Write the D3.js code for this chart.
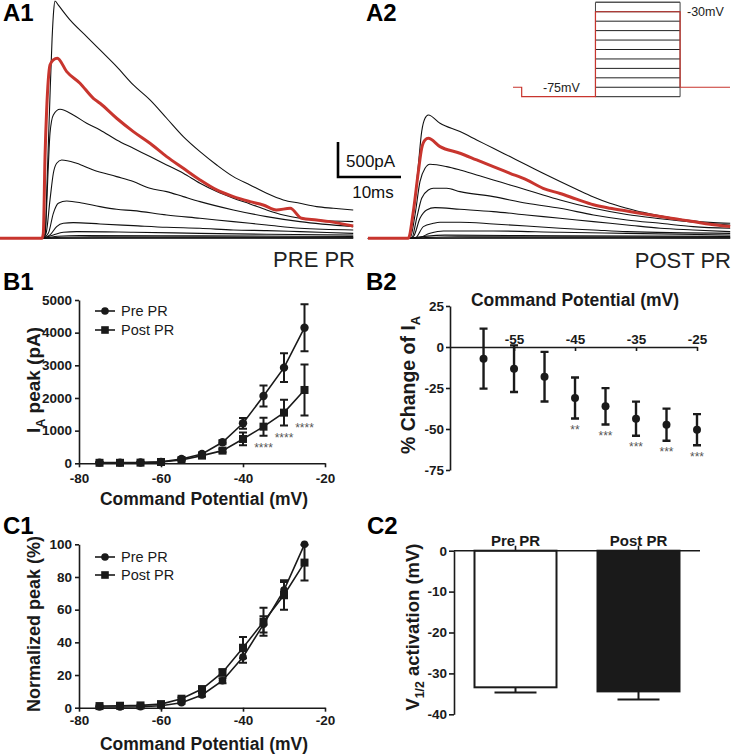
<!DOCTYPE html>
<html><head><meta charset="utf-8">
<script src="https://cdn.jsdelivr.net/npm/d3@7"></script>
<style>
body{margin:0;background:#fff;}
svg{display:block;}
</style></head><body>
<svg id="fig" width="734" height="754"></svg>
<script>
// ================= DATA =================
// A1/A2: current traces, [time (ms) from step onset, current (pA)]
const traceVolts = [-25,-30,-35,-40,-45,-50,-55,-60,-65,-70,-75];
const highlightV = -30;
const preWindow = [-6.67, 49.4];
const postWindow = [-6.2, 51.3];

const pre_m25 = [[0,0],[0.48,40],[0.8,800],[1.2,1850],[1.6,2850],[1.85,3250],[2.06,3391],[2.6,3330],[4.44,3120],[7.09,2882],[9.21,2691],[11.85,2453],[14.5,2191],[17.14,1977],[19.79,1715],[22.43,1453],[25.08,1238],[27.73,1048],[30.37,881],[33.02,762],[35.66,643],[38.3,548],[40.95,500],[43.6,452],[46.24,429],[49.4,405]];
const pre_m30 = [[0,0],[0.21,71],[0.48,1167],[0.74,1834],[1.0,2262],[1.27,2477],[1.8,2548],[2.43,2572],[3.92,2381],[6.03,2215],[8.15,2000],[9.21,1929],[11.85,1715],[14.5,1524],[17.14,1357],[19.79,1167],[22.43,1000],[25.08,834],[27.73,691],[30.37,595],[33.02,524],[35.1,476],[37.2,405],[39.4,429],[41.2,286],[43.6,261],[45.7,238],[49.4,175]];
const pre_m35 = [[0,0],[0.48,71],[1.0,1024],[1.27,1500],[1.8,1762],[2.86,1843],[4.97,1762],[7.09,1643],[9.21,1548],[11.85,1405],[14.5,1286],[17.14,1167],[19.79,1048],[22.43,929],[25.08,786],[27.73,667],[30.37,572],[33.02,491],[35.66,405],[38.3,333],[40.95,286],[43.6,262],[49.4,238]];
const pre_m40 = [[0,0],[0.64,71],[1.27,548],[1.8,929],[2.33,1072],[3.12,1119],[5.5,1072],[8.15,976],[11.85,881],[14.5,810],[17.14,714],[19.79,667],[22.43,595],[25.08,524],[30.37,405],[35.66,310],[40.95,238],[49.4,167]];
const pre_m45 = [[0,0],[1.0,71],[1.8,357],[2.59,500],[3.92,533],[6.56,500],[9.21,452],[11.85,414],[14.5,395],[19.79,333],[25.08,286],[30.37,238],[35.66,191],[40.95,143],[49.4,119]];
const pre_m50 = [[0,0],[1.27,48],[2.33,167],[3.39,214],[4.97,224],[9.21,205],[14.5,181],[19.79,157],[25.08,143],[30.37,119],[35.66,110],[40.95,95],[49.4,71]];
const pre_m55 = [[0,0],[1.8,48],[3.39,86],[5.5,95],[14.5,86],[25.08,71],[35.66,57],[49.4,48]];
const pre_m60 = [[0,0],[2.5,30],[6,40],[25,35],[49.4,28]];
const pre_m65 = [[0,0],[3,15],[8,20],[49.4,14]];
const pre_m70 = [[0,0],[10,8],[49.4,6]];
const pre_m75 = [[0,0],[49.4,0]];

const post_m25 = [[0,0],[0.21,0],[1.0,333],[1.8,1047],[2.33,1523],[2.86,1714],[3.38,1762],[5.24,1643],[8.41,1524],[11.06,1405],[13.7,1286],[16.35,1167],[19.0,1048],[21.6,929],[24.3,810],[26.9,700],[29.6,590],[32.2,500],[34.9,430],[37.5,370],[40.2,320],[42.8,280],[45.4,250],[48.0,228],[51.3,214]];
const post_m30 = [[0,0],[0.21,0],[1.0,381],[1.8,952],[2.33,1286],[2.86,1405],[3.38,1429],[5.24,1310],[8.41,1215],[11.06,1119],[13.7,1024],[16.35,929],[19.0,834],[21.6,714],[24.3,640],[26.9,560],[29.6,480],[32.2,430],[34.9,390],[37.5,350],[40.2,310],[42.8,275],[45.4,240],[48.1,200],[51.3,167]];
const post_m35 = [[0,0],[0.48,0],[1.27,333],[2.06,809],[2.86,1000],[3.65,1057],[6.3,1024],[8.41,976],[11.06,905],[13.7,834],[16.35,762],[19.0,691],[21.6,619],[24.3,548],[29.6,429],[34.9,340],[40.2,280],[45.4,230],[51.3,191]];
const post_m40 = [[0,0],[0.74,0],[1.53,286],[2.33,572],[3.38,690],[4.18,714],[6.3,714],[8.41,667],[13.7,595],[19.0,500],[24.3,429],[29.6,333],[34.9,262],[40.2,214],[45.4,167],[51.3,143]];
const post_m45 = [[0,0],[1.0,24],[2.06,286],[3.12,405],[4.44,438],[8.41,414],[13.7,381],[19.0,333],[24.3,286],[29.6,238],[34.9,191],[40.2,143],[45.4,119],[51.3,95]];
const post_m50 = [[0,0],[1.27,0],[2.6,167],[4.18,214],[5.24,229],[8.41,229],[13.7,205],[19.0,176],[24.3,143],[29.6,119],[34.9,95],[51.3,71]];
const post_m55 = [[0,0],[1.53,0],[3.65,71],[5.77,105],[13.7,105],[24.3,86],[34.9,71],[51.3,48]];
const post_m60 = [[0,0],[2.5,25],[6,45],[25,35],[51.3,28]];
const post_m65 = [[0,0],[3,12],[8,22],[51.3,14]];
const post_m70 = [[0,0],[10,8],[51.3,6]];
const post_m75 = [[0,0],[51.3,0]];

const preTraces = [pre_m25,pre_m30,pre_m35,pre_m40,pre_m45,pre_m50,pre_m55,pre_m60,pre_m65,pre_m70,pre_m75];
const postTraces = [post_m25,post_m30,post_m35,post_m40,post_m45,post_m50,post_m55,post_m60,post_m65,post_m70,post_m75];

// Scale bar values
const scaleBarPA = 500, scaleBarMs = 10;

// Voltage protocol inset (schematic time units 0-100)
const stepLevels = [-25,-30,-35,-40,-45,-50,-55,-60,-65,-70,-75];
const holdingV = -70, prepulseV = -75;
const protocolT = [0, 4, 38, 77, 100];

// B1: I-V peak amplitudes
const voltages = [-75,-70,-65,-60,-55,-50,-45,-40,-35,-30,-25];
const prePeak  = [20,20,25,45,133,286,643,1224,2061,2929,4153];
const preSem   = [10,10,10,15,25,40,60,165,320,440,720];
const postPeak = [15,15,20,40,100,235,388,745,1122,1551,2245];
const postSem  = [8,8,10,15,20,35,50,195,275,395,780];
const b1StarV = [-35,-30,-25];
const b1StarText = ["****","****","****"];
const b1XTicks = [-80,-60,-40,-20];
const b1YTicks = [0,1000,2000,3000,4000,5000];

// B2: % change
const changeV    = [-60,-55,-50,-45,-40,-35,-30,-25];
const changeMean = [-7.1,-13.2,-18.1,-31.1,-36.2,-43.7,-47.4,-50.4];
const changeSem  = [18.3,14.2,15.1,12.5,11.1,10.4,9.8,9.5];
const changeStars = ["","","","**","***","***","***","***"];
const b2XTicks = [-55,-45,-35,-25];
const b2YTicks = [25,0,-25,-50,-75];

// C1: normalized peak
const normPre     = [0.4,0.4,0.6,1.2,3,7.8,16.5,31,51,72,100];
const normPreSem  = [0.2,0.2,0.3,0.4,0.6,1,1.5,3.5,5,5,0];
const normPost    = [1,1.2,1.4,2.2,5.5,11.4,21.6,36.7,52.6,69,88.8];
const normPostSem = [0.3,0.3,0.4,0.5,0.8,1.2,2,6.5,8.5,9,11];
const c1YTicks = [0,20,40,60,80,100];

// C2: V1/2 activation
const groups = ["Pre PR","Post PR"];
const vHalf = [-33.4,-34.4];
const vHalfSem = [1.3,2.0];
const c2YTicks = [0,-10,-20,-30,-40];

// ================= DRAWING =================
const FONT = '"Liberation Sans", Arial, Helvetica, sans-serif';
const INK = '#1a1a1a';
const RED = '#c8352e';
const svg = d3.select('#fig').style('font-family', FONT);

function txt(x, y, s, opt = {}) {
  const t = svg.append('text').attr('x', x).attr('y', y)
    .attr('fill', opt.fill || INK)
    .attr('font-size', opt.size || 13)
    .attr('font-weight', opt.weight || 'normal')
    .attr('text-anchor', opt.anchor || 'start')
    .text(s);
  return t;
}

// ---- panel letters
[['A1',3,21],['A2',366,21],['B1',3,290],['B2',366,290],['C1',3,534],['C2',367,534]]
  .forEach(([s,x,y]) => txt(x, y, s, {size: 24, weight: 'bold', fill: '#000'}));

// ---- A panels: traces
const yA = d3.scaleLinear().domain([0, 500]).range([238.3, 203.3]);
function tracePanel(traces, xScale, win) {
  const line = d3.line().x(d => xScale(d[0])).y(d => yA(d[1])).curve(d3.curveMonotoneX);
  const g = svg.append('g');
  const items = traceVolts.map((v, i) => ({v, pts: [[win[0], 0], ...traces[i]]}));
  items.slice().reverse().filter(d => d.v !== highlightV).forEach(d => {
    g.append('path').attr('d', line(d.pts)).attr('fill', 'none')
      .attr('stroke', '#111').attr('stroke-width', 1.1);
  });
  items.filter(d => d.v === highlightV).forEach(d => {
    g.append('path').attr('d', line(d.pts)).attr('fill', 'none')
      .attr('stroke', RED).attr('stroke-width', 3).attr('stroke-linejoin', 'round');
  });
}
const xA1 = d3.scaleLinear().domain([0, 10]).range([42, 105]);
const xA2 = d3.scaleLinear().domain([0, 10]).range([407, 470]);
tracePanel(preTraces, xA1, preWindow);
tracePanel(postTraces, xA2, postWindow);

txt(355, 267, 'PRE PR', {size: 22, anchor: 'end', fill: '#222'});
txt(731, 268, 'POST PR', {size: 22, anchor: 'end', fill: '#222'});

// scale bar
{
  const bx = 338, by = 177;
  const h = yA(0) - yA(scaleBarPA);
  const w = xA1(scaleBarMs) - xA1(0);
  svg.append('path').attr('d', `M${bx},${by - h}V${by}H${bx + w}`)
    .attr('fill', 'none').attr('stroke', '#000').attr('stroke-width', 2.6);
  txt(346, 166.5, scaleBarPA + 'pA', {size: 17, fill: '#111'});
  txt(373, 197.5, scaleBarMs + 'ms', {size: 17, anchor: 'middle', fill: '#111'});
}

// voltage protocol inset
{
  const xP = d3.scaleLinear().domain([0, 100]).range([513, 730]);
  const yP = d3.scaleLinear().domain([-75, -25]).range([96.7, 2.3]);
  const g = svg.append('g');
  stepLevels.forEach(v => {
    g.append('line').attr('x1', xP(protocolT[2])).attr('x2', xP(protocolT[3]))
      .attr('y1', yP(v)).attr('y2', yP(v))
      .attr('stroke', v === stepLevels[0] ? '#555' : '#222').attr('stroke-width', v === stepLevels[0] ? 1.6 : 1);
  });
  [protocolT[2], protocolT[3]].forEach(t => {
    g.append('line').attr('x1', xP(t)).attr('x2', xP(t))
      .attr('y1', yP(stepLevels[0])).attr('y2', yP(prepulseV))
      .attr('stroke', '#444').attr('stroke-width', 1);
  });
  const p = d3.path();
  p.moveTo(xP(protocolT[0]), yP(holdingV));
  p.lineTo(xP(protocolT[1]), yP(holdingV));
  p.lineTo(xP(protocolT[1]), yP(prepulseV));
  p.lineTo(xP(protocolT[2]), yP(prepulseV));
  p.lineTo(xP(protocolT[2]), yP(highlightV));
  p.lineTo(xP(protocolT[3]), yP(highlightV));
  p.lineTo(xP(protocolT[3]), yP(holdingV));
  p.lineTo(xP(protocolT[4]), yP(holdingV));
  g.append('path').attr('d', p.toString()).attr('fill', 'none')
    .attr('stroke', RED).attr('stroke-width', 1.2);
  txt(687, yP(highlightV) + 4.5, highlightV + 'mV', {size: 12.5, fill: '#222'});
  txt(543, yP(prepulseV) - 4.5, prepulseV + 'mV', {size: 12.5, fill: '#222'});
}

// ---- axis helpers
function styleAxis(g, size) {
  g.attr('font-family', FONT).attr('font-size', size || 13.5).attr('font-weight', 'bold');
  g.select('.domain').attr('stroke', INK).attr('stroke-width', 1.6);
  g.selectAll('.tick line').attr('stroke', INK).attr('stroke-width', 1.6);
  g.selectAll('.tick text').attr('fill', INK);
}
function yTitle(x, y, parts, size) {
  const t = svg.append('text').attr('transform', `translate(${x},${y}) rotate(-90)`)
    .attr('text-anchor', 'middle').attr('font-size', size).attr('font-weight', 'bold').attr('fill', INK);
  const shift = size * 0.28;
  let prevSub = false;
  parts.forEach(([s, sub]) => {
    const ts = t.append('tspan').text(s);
    if (sub) { ts.attr('font-size', size * 0.66).attr('dy', shift); prevSub = true; }
    else if (prevSub) { ts.attr('dy', -shift); prevSub = false; }
  });
  return t;
}
function errBars(g, xs, ys, es, x, y, cap, w) {
  xs.forEach((v, i) => {
    if (!es[i]) return;
    const cx = x(v), y1 = y(ys[i] + es[i]), y2 = y(ys[i] - es[i]);
    g.append('path').attr('d', `M${cx},${y1}V${y2}M${cx - cap/2},${y1}H${cx + cap/2}M${cx - cap/2},${y2}H${cx + cap/2}`)
      .attr('stroke', INK).attr('stroke-width', w).attr('fill', 'none');
  });
}
function marker(g, type, cx, cy, r) {
  if (type === 'circle') g.append('circle').attr('cx', cx).attr('cy', cy).attr('r', r).attr('fill', INK);
  else g.append('rect').attr('x', cx - r).attr('y', cy - r).attr('width', 2*r).attr('height', 2*r).attr('fill', INK);
}
function seriesPlot(g, x, y, vals, sems, type, r) {
  const line = d3.line().x((d, i) => x(voltages[i])).y(d => y(d));
  g.append('path').attr('d', line(vals)).attr('fill', 'none').attr('stroke', INK).attr('stroke-width', 1.6);
  errBars(g, voltages, vals, sems, x, y, 8, 2);
  vals.forEach((v, i) => marker(g, type, x(voltages[i]), y(v), r));
}
function legend(g, x0, ys) {
  [['circle', 'Pre PR'], ['square', 'Post PR']].forEach(([type, s], i) => {
    g.append('line').attr('x1', x0).attr('x2', x0 + 20).attr('y1', ys[i]).attr('y2', ys[i])
      .attr('stroke', INK).attr('stroke-width', 1.6);
    marker(g, type, x0 + 10, ys[i], 3.8);
    txt(x0 + 26, ys[i] + 5, s, {size: 14.5, fill: INK});
  });
}

// ---- B1
{
  const x = d3.scaleLinear().domain([-80, -20]).range([79, 325]);
  const y = d3.scaleLinear().domain([0, 5000]).range([463.3, 300]);
  const g = svg.append('g');
  const gx = g.append('g').attr('transform', `translate(0,${y(0)})`)
    .call(d3.axisBottom(x).tickValues(b1XTicks).tickSize(4).tickSizeOuter(0).tickPadding(6).tickFormat(d => String(d)));
  styleAxis(gx);
  const gy = g.append('g').attr('transform', `translate(${x(-80)},0)`)
    .call(d3.axisLeft(y).tickValues(b1YTicks).tickSize(4).tickSizeOuter(0).tickPadding(3).tickFormat(d => String(d)));
  styleAxis(gy);
  seriesPlot(g, x, y, prePeak, preSem, 'circle', 4.2);
  seriesPlot(g, x, y, postPeak, postSem, 'square', 4);
  b1StarV.forEach((v, k) => {
    const i = voltages.indexOf(v);
    txt(x(v), y(postPeak[i] - postSem[i]) + 16.5, b1StarText[k], {size: 12, anchor: 'middle', fill: '#555'});
  });
  legend(g, 95, [311, 330]);
  txt(204, 505, 'Command Potential (mV)', {size: 17.5, weight: 'bold', anchor: 'middle'});
  yTitle(40, 380, [['I'], ['A', true], [' peak (pA)']], 19);
}

// ---- B2
{
  const x = d3.scaleLinear().domain([-65.5, -25]).range([450, 697]);
  const y = d3.scaleLinear().domain([-75, 25]).range([470, 306]);
  const g = svg.append('g');
  const gx = g.append('g').attr('transform', `translate(0,${y(0)})`)
    .call(d3.axisTop(x).tickValues(b2XTicks).tickSizeInner(-4).tickSizeOuter(0).tickPadding(3.5).tickFormat(d => String(d)));
  styleAxis(gx);
  const gy = g.append('g').attr('transform', `translate(${x.range()[0]},0)`)
    .call(d3.axisLeft(y).tickValues(b2YTicks).tickSize(4).tickSizeOuter(0).tickPadding(2).tickFormat(d => String(d)));
  styleAxis(gy);
  changeV.forEach((v, i) => {
    const cx = x(v), y1 = y(changeMean[i] + changeSem[i]), y2 = y(changeMean[i] - changeSem[i]);
    g.append('path').attr('d', `M${cx},${y1}V${y2}M${cx-4},${y1}H${cx+4}M${cx-4},${y2}H${cx+4}`)
      .attr('stroke', INK).attr('stroke-width', 2.4).attr('fill', 'none');
    marker(g, 'circle', cx, y(changeMean[i]), 4);
    if (changeStars[i]) txt(cx, y2 + 15.5, changeStars[i], {size: 12, anchor: 'middle', fill: '#555'});
  });
  txt(575, 306, 'Command Potential (mV)', {size: 17.5, weight: 'bold', anchor: 'middle'});
  yTitle(415, 385, [['% Change of I'], ['A', true]], 19.5);
}

// ---- C1
{
  const x = d3.scaleLinear().domain([-80, -20]).range([79, 325]);
  const y = d3.scaleLinear().domain([0, 100]).range([707.7, 544.3]);
  const g = svg.append('g');
  const gx = g.append('g').attr('transform', `translate(0,${y(0)})`)
    .call(d3.axisBottom(x).tickValues(b1XTicks).tickSize(4).tickSizeOuter(0).tickPadding(4).tickFormat(d => String(d)));
  styleAxis(gx);
  const gy = g.append('g').attr('transform', `translate(${x(-80)},0)`)
    .call(d3.axisLeft(y).tickValues(c1YTicks).tickSize(4).tickSizeOuter(0).tickPadding(3).tickFormat(d => String(d)));
  styleAxis(gy);
  seriesPlot(g, x, y, normPre, normPreSem, 'circle', 3.8);
  seriesPlot(g, x, y, normPost, normPostSem, 'square', 4);
  legend(g, 95, [557, 575]);
  txt(204, 750, 'Command Potential (mV)', {size: 17.5, weight: 'bold', anchor: 'middle'});
  yTitle(40, 624, [['Normalized peak (%)']], 18);
}

// ---- C2
{
  const x = d3.scaleBand().domain(groups).range([454, 700]).paddingInner(1/3).paddingOuter(1/6);
  const y = d3.scaleLinear().domain([-40, 0]).range([714.3, 550.7]);
  const g = svg.append('g');
  const fills = ['#fff', '#1a1a1a'];
  groups.forEach((k, i) => {
    const cx = x(k) + x.bandwidth() / 2;
    const yb = y(vHalf[i]), ye = y(vHalf[i] - vHalfSem[i]);
    g.append('path').attr('d', `M${cx},${yb}V${ye}M${cx-21},${ye}H${cx+21}`)
      .attr('stroke', INK).attr('stroke-width', 2).attr('fill', 'none');
    g.append('rect').attr('x', x(k)).attr('y', y(0)).attr('width', x.bandwidth())
      .attr('height', yb - y(0)).attr('fill', fills[i]).attr('stroke', INK).attr('stroke-width', 2);
  });
  const gx = g.append('g').attr('transform', `translate(0,${y(0)})`)
    .call(d3.axisTop(x).tickSize(5).tickSizeOuter(0).tickPadding(0));
  styleAxis(gx, 15);
  gx.select('.domain').attr('d', `M454,0H700`);
  const gy = g.append('g').attr('transform', `translate(454,0)`)
    .call(d3.axisLeft(y).tickValues(c2YTicks).tickSize(5).tickSizeOuter(0).tickPadding(2).tickFormat(d => String(d)));
  styleAxis(gy);
  yTitle(419, 627, [['V'], ['1/2', true], [' activation (mV)']], 18.5);
}
</script>
</body></html>
